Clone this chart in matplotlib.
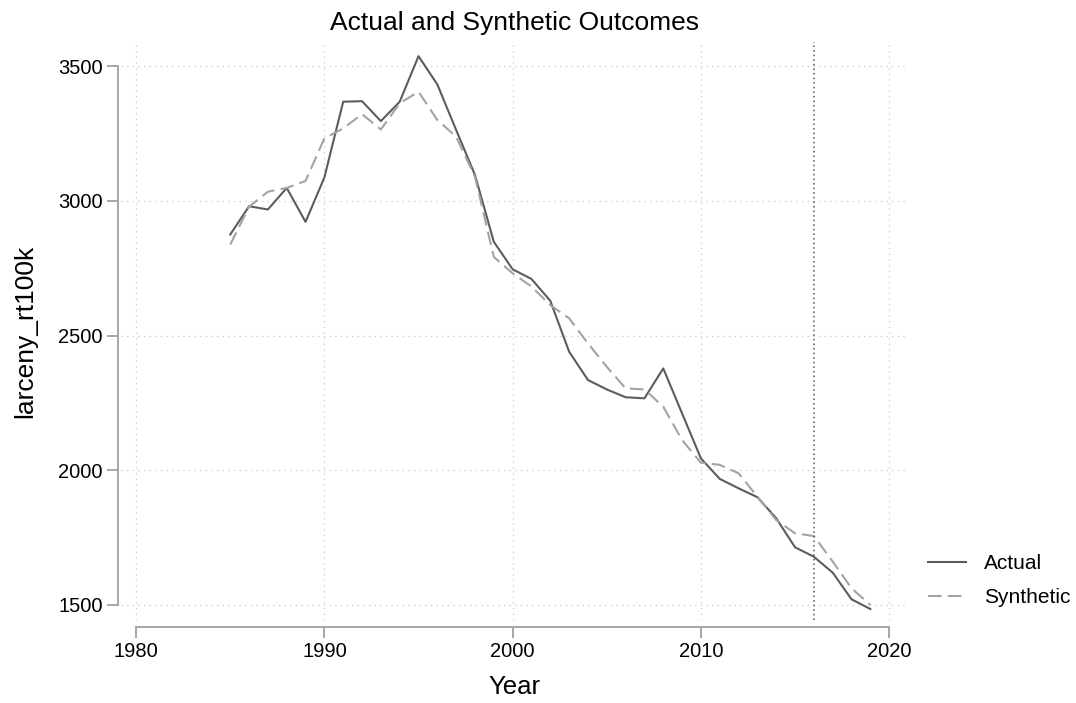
import numpy as np
import matplotlib.pyplot as plt

# data
years = list(range(1985, 2020))
actual = [2875, 2980, 2968, 3048, 2922, 3087, 3368, 3370, 3296, 3368,
          3537, 3432, 3263, 3096, 2848, 2746, 2710, 2629, 2440, 2335,
          2300, 2271, 2267, 2378, 2211, 2044, 1968, 1933, 1900, 1822,
          1714, 1679, 1620, 1521, 1485]
synthetic = [2838, 2978, 3034, 3048, 3074, 3232, 3269, 3322, 3265, 3362,
             3405, 3300, 3238, 3089, 2792, 2731, 2682, 2613, 2564, 2471,
             2384, 2304, 2300, 2236, 2112, 2028, 2020, 1989, 1902, 1815,
             1766, 1756, 1661, 1562, 1500]
treat_year = 2016
xticks = [1980, 1990, 2000, 2010, 2020]
yticks = [1500, 2000, 2500, 3000, 3500]

plt.rcParams['font.family'] = ['Liberation Sans', 'DejaVu Sans']

fig = plt.figure(figsize=(10.76, 7.03), dpi=100)
ax = fig.add_axes([0.1125, 0.118, 0.7305, 0.822])

ax.plot(years, actual, color='#5c5c5c', lw=1.5, label='Actual')
ax.plot(years, synthetic, color='#a3a3a3', lw=1.5, linestyle=(0, (6.5, 3.0)),
        label='Synthetic')
ax.axvline(treat_year, color='#555555', lw=1.1, linestyle=(0, (1, 2)))

ax.set_xlim(1979.2, 2020.95)
ax.set_ylim(1444, 3589)
ax.set_xticks(xticks)
ax.set_yticks(yticks)
ax.grid(True, color='#c8c8c8', lw=0.9, linestyle=(0, (1, 3.5)))

for s in ['top', 'right']:
    ax.spines[s].set_visible(False)
ax.spines['left'].set_bounds(1500, 3500)
ax.spines['bottom'].set_bounds(1980, 2020)
ax.spines['left'].set_position(('outward', 2))
ax.spines['bottom'].set_position(('outward', 5))
for s in ['left', 'bottom']:
    ax.spines[s].set_color('#a6a6a6')
    ax.spines[s].set_linewidth(1.4)
ax.tick_params(length=8, width=1.4, color='#a6a6a6', labelsize=14.5,
               labelcolor='black', pad=3)

ax.set_title('Actual and Synthetic Outcomes', fontsize=19, pad=9)
ax.set_xlabel('Year', fontsize=18.5, labelpad=10)
ax.set_ylabel('larceny_rt100k', fontsize=19, labelpad=15)

ax.legend(loc='center left', bbox_to_anchor=(1.003, 0.068), frameon=False,
          fontsize=15, handlelength=1.8, handletextpad=0.9, labelspacing=0.7)

fig.savefig('out.png', dpi=100)
